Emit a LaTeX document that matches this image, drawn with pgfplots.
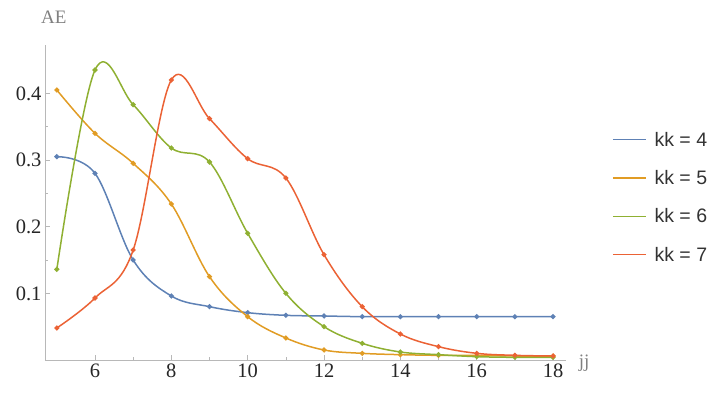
\documentclass[border=0pt]{standalone}
\usepackage{fontspec}
\setmainfont{Liberation Serif}
\newfontfamily\legfont{Liberation Sans}
\usepackage{pgfplots}
\pgfplotsset{compat=1.18}
\definecolor{mblue}{HTML}{5E81B5}
\definecolor{morange}{HTML}{E19C24}
\definecolor{mgreen}{HTML}{8FB032}
\definecolor{mred}{HTML}{EB6235}
\definecolor{axgray}{HTML}{B8B8B8}
\begin{document}
\begin{tikzpicture}
\path[use as bounding box] (-45pt,-36pt) rectangle (676pt,360pt);
\begin{axis}[
  scale only axis, width=521pt, height=315pt,
  at={(0pt,0pt)}, anchor=south west,
  xmin=4.69, xmax=18.34, ymin=0, ymax=0.4725,
  axis lines=left,
  axis line style={draw=axgray, line width=0.8pt, -},
  xtick={6,8,...,18}, ytick={0.1,0.2,0.3,0.4},
  minor x tick num=1, minor y tick num=1,
  tick align=inside,
  major tick length=5pt, minor tick length=3pt,
  tick style={draw=axgray, line width=0.6pt},
  /pgf/number format/assume math mode=true,
  /pgf/number format/fixed, /pgf/number format/precision=1,
  ticklabel style={font=\fontsize{20.5}{24}\selectfont, text=black!85},
  xlabel={jj}, ylabel={AE},
  label style={font=\fontsize{19}{22}\selectfont, text=black!50},
  xlabel style={at={(axis description cs:1.035,-0.01)}, anchor=center},
  ylabel style={at={(axis description cs:0.017,1.089)}, anchor=center, rotate=-90},
  legend style={draw=none, fill=none, at={(axis description cs:1.088,0.731)}, anchor=north west,
    font=\legfont\fontsize{19.5}{22}\selectfont, text=black!80, row sep=18.7pt, inner sep=0pt},
  legend cell align=left,
  legend image code/.code={\draw[#1, mark=none, line width=1.5pt] (0pt,0pt)--(33pt,0pt); \path (39pt,0pt);},
  every axis plot/.append style={smooth, tension=0.6, line width=1.5pt, mark=*, mark size=1.7pt},
  clip=false,
]
\addplot[mblue, mark options={fill=mblue}] coordinates {
(5,0.305) (6,0.280) (7,0.150) (8,0.096) (9,0.080) (10,0.071) (11,0.067) (12,0.066) (13,0.065) (14,0.065) (15,0.065) (16,0.065) (17,0.065) (18,0.065)};
\addlegendentry{kk = 4}
\addplot[morange, mark options={fill=morange}] coordinates {
(5,0.405) (6,0.340) (7,0.295) (8,0.234) (9,0.125) (10,0.065) (11,0.033) (12,0.015) (13,0.010) (14,0.008) (15,0.007) (16,0.007) (17,0.006) (18,0.006)};
\addlegendentry{kk = 5}
\addplot[mgreen, mark options={fill=mgreen}] coordinates {
(5,0.136) (6,0.435) (7,0.383) (8,0.318) (9,0.297) (10,0.190) (11,0.100) (12,0.050) (13,0.025) (14,0.012) (15,0.008) (16,0.005) (17,0.004) (18,0.004)};
\addlegendentry{kk = 6}
\addplot[mred, mark options={fill=mred}] coordinates {
(5,0.048) (6,0.093) (7,0.165) (8,0.420) (9,0.362) (10,0.302) (11,0.273) (12,0.158) (13,0.080) (14,0.039) (15,0.020) (16,0.010) (17,0.007) (18,0.006)};
\addlegendentry{kk = 7}
\end{axis}
\end{tikzpicture}
\end{document}
